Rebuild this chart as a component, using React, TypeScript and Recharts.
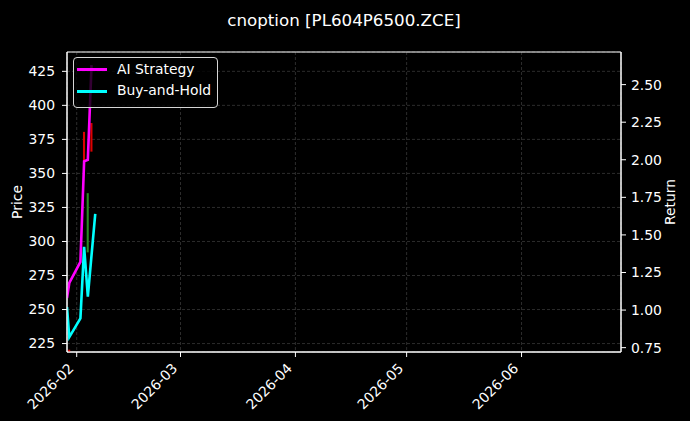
import React from 'react';
import {
  ComposedChart,
  Line,
  Bar,
  XAxis,
  YAxis,
  CartesianGrid,
  Legend,
  ReferenceArea,
} from 'recharts';

// ---------- data ----------
const lineDates = [
  '2026-01-29T09:07',
  '2026-01-30T00:00',
  '2026-02-02T00:00',
  '2026-02-03T00:00',
  '2026-02-04T00:00',
  '2026-02-05T00:00',
  '2026-02-06T00:00',
];
const aiStrategy: (number | null)[] = [1.08, 1.18, 1.32, 1.99, 2.0, 2.63, null];
const buyAndHold: (number | null)[] = [1.02, 0.82, 0.945, 1.42, 1.09, null, 1.64];

const candleDates = ['2026-01-30T00:00', '2026-02-03T00:00', '2026-02-04T00:00', '2026-02-05T00:00'];
const candleOpen = [220.5, 380.5, 292.0, 387.0];
const candleClose = [219.0, 358.5, 335.5, 366.0];

const monthTickDates = ['2026-02-01T00:00', '2026-03-01T00:00', '2026-04-01T00:00', '2026-05-01T00:00', '2026-06-01T00:00'];
const xDomainDates = ['2026-01-29T09:07', '2026-06-27T19:55'];
const priceTicks = [225, 250, 275, 300, 325, 350, 375, 400, 425];
const priceDomain = [218.8, 439.2];
const returnTicks = [0.75, 1.0, 1.25, 1.5, 1.75, 2.0, 2.25, 2.5];
const returnDomain = [0.721, 2.717];

const TITLE = 'cnoption [PL604P6500.ZCE]';
const FONT = '"DejaVu Sans", Verdana, sans-serif';
const RED = '#dd0000';
const GREEN = '#2a8a22';

// ---------- build the table ----------
const toTs = (s: string) => Date.parse(s + ':00Z');

type Row = { t: number; ai?: number | null; bh?: number | null; open?: number; close?: number };
const rowMap = new Map<number, Row>();
lineDates.forEach((d, i) => {
  const t = toTs(d);
  const r: Row = rowMap.get(t) ?? { t };
  r.ai = aiStrategy[i];
  r.bh = buyAndHold[i];
  rowMap.set(t, r);
});
candleDates.forEach((d, i) => {
  const t = toTs(d);
  const r: Row = rowMap.get(t) ?? { t };
  r.open = candleOpen[i];
  r.close = candleClose[i];
  rowMap.set(t, r);
});
const data = Array.from(rowMap.values()).sort((a, b) => a.t - b.t);

const monthTicks = monthTickDates.map(toTs);
const xDomain = xDomainDates.map(toTs);

const fmtMonth = (v: number) => {
  const d = new Date(v);
  return `${d.getUTCFullYear()}-${String(d.getUTCMonth() + 1).padStart(2, '0')}`;
};

const XTick = (props: any) => {
  const { x, y, payload } = props;
  return (
    <text
      x={0}
      y={0}
      transform={`translate(${x - 2.3},${y + 12.3}) rotate(-45)`}
      textAnchor="end"
      fill="#ffffff"
      fontSize={13.9}
      fontFamily={FONT}
    >
      {fmtMonth(payload.value)}
    </text>
  );
};

const CandleShape = (props: any) => {
  const { x, y, width, height, payload } = props;
  if (!payload || payload.open == null || !isFinite(y)) return <g />;
  const fill = payload.close < payload.open ? RED : GREEN;
  return <rect x={x} y={y} width={width} height={Math.max(height, 1)} fill={fill} />;
};

const renderLegend = (props: any) => {
  const items = (props.payload || []).filter((p: any) => p.type !== 'none');
  return (
    <div
      style={{
        boxSizing: 'border-box',
        width: 145,
        height: 51,
        border: '1px solid #d6d6d6',
        borderRadius: 4,
        background: 'rgba(0,0,0,0.8)',
        position: 'relative',
        fontFamily: FONT,
        fontSize: 13.9,
        color: '#ffffff',
      }}
    >
      {items.map((it: any, i: number) => (
        <div
          key={i}
          style={{ position: 'absolute', left: 0, top: 1.7 + i * 21.6, height: 20, width: '100%' }}
        >
          <div
            style={{ position: 'absolute', left: 3, top: 8.6, width: 30, height: 2.8, background: it.color }}
          />
          <span style={{ position: 'absolute', left: 43, top: -1, lineHeight: '20px', whiteSpace: 'nowrap' }}>
            {it.value}
          </span>
        </div>
      ))}
    </div>
  );
};

export default function App() {
  return (
    <div style={{ position: 'absolute', left: 0, top: 0, width: 690, height: 421, background: '#000000' }}>
      <ComposedChart
        width={690}
        height={421}
        data={data}
        margin={{ top: 52, right: 0, bottom: 0, left: 0 }}
        style={{ background: '#000000' }}
      >
        <CartesianGrid
          yAxisId="price"
          stroke="rgba(255,255,255,0.22)"
          strokeWidth={0.8}
          strokeDasharray="3 2"
        />
        <XAxis
          dataKey="t"
          type="number"
          domain={xDomain}
          ticks={monthTicks}
          tick={<XTick />}
          tickSize={5}
          tickMargin={0}
          height={69}
          interval={0}
          stroke="#ffffff"
          axisLine={{ stroke: '#ffffff' }}
          tickLine={{ stroke: '#ffffff' }}
          allowDataOverflow
        />
        <YAxis
          yAxisId="price"
          orientation="left"
          type="number"
          domain={priceDomain}
          ticks={priceTicks}
          width={67}
          tickSize={5}
          tickMargin={7}
          interval={0}
          axisLine={{ stroke: '#ffffff' }}
          tickLine={{ stroke: '#ffffff' }}
          tick={{ fill: '#ffffff', fontSize: 13.9, fontFamily: FONT }}
          allowDataOverflow
        />
        <YAxis
          yAxisId="ret"
          orientation="right"
          type="number"
          domain={returnDomain}
          ticks={returnTicks}
          width={69}
          tickSize={5}
          tickMargin={5}
          interval={0}
          axisLine={{ stroke: '#ffffff' }}
          tickLine={{ stroke: '#ffffff' }}
          tick={{ fill: '#ffffff', fontSize: 13.9, fontFamily: FONT, textAnchor: 'start' }}
          tickFormatter={(v: number) => v.toFixed(2)}
          allowDataOverflow
        />
        <Bar
          yAxisId="price"
          dataKey={(r: Row) => (r.open != null && r.close != null ? [Math.min(r.open, r.close), Math.max(r.open, r.close)] : null)}
          barSize={3}
          shape={<CandleShape />}
          legendType="none"
          isAnimationActive={false}
        />
        <Line
          yAxisId="ret"
          type="linear"
          dataKey="ai"
          name="AI Strategy"
          stroke="#ff00ff"
          strokeWidth={2.6}
          dot={false}
          connectNulls
          isAnimationActive={false}
        />
        <Line
          yAxisId="ret"
          type="linear"
          dataKey="bh"
          name="Buy-and-Hold"
          stroke="#00ffff"
          strokeWidth={2.6}
          dot={false}
          connectNulls
          isAnimationActive={false}
        />
        <ReferenceArea
          yAxisId="price"
          x1={xDomain[0]}
          x2={xDomain[1]}
          y1={priceDomain[0]}
          y2={priceDomain[1]}
          fill="none"
          fillOpacity={0}
          stroke="#ffffff"
          strokeWidth={1}
          ifOverflow="visible"
        />
        <Legend
          layout="vertical"
          align="center"
          verticalAlign="middle"
          wrapperStyle={{ left: 73, top: 57, width: 145, height: 51 }}
          content={renderLegend}
        />
      </ComposedChart>
      <svg
        width={690}
        height={421}
        style={{ position: 'absolute', left: 0, top: 0, pointerEvents: 'none' }}
      >
        <text x={344} y={26} textAnchor="middle" fill="#ffffff" fontSize={16.7} fontFamily={FONT}>
          {TITLE}
        </text>
        <text transform="translate(22,202) rotate(-90)" textAnchor="middle" fill="#ffffff" fontSize={13.9} fontFamily={FONT}>
          Price
        </text>
        <text transform="translate(675,202) rotate(-90)" textAnchor="middle" fill="#ffffff" fontSize={13.9} fontFamily={FONT}>
          Return
        </text>
      </svg>
    </div>
  );
}
